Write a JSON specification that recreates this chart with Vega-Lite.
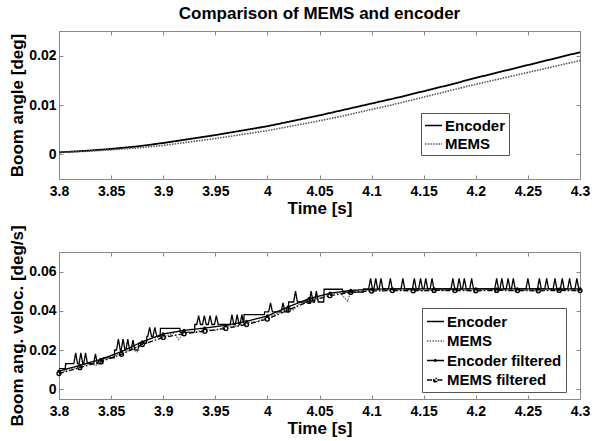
{
"$schema": "https://vega.github.io/schema/vega-lite/v6.json",
"padding": {"left": 8, "top": 4, "right": 0, "bottom": 0},
"config": {
  "font": "Liberation Sans",
  "view": {"stroke": "#888", "strokeWidth": 1},
  "axis": {"domain": false, "grid": false, "tickColor": "#888", "tickSize": -4, "labelFontSize": 14, "labelFontWeight": "bold", "labelColor": "black", "titleFontSize": 17, "titleFontWeight": "bold", "titleColor": "black", "labelFlush": false},
  "axisX": {"labelPadding": 9, "titlePadding": 2},
  "axisY": {"labelPadding": 7, "titlePadding": 2},
  "legend": {"orient": "none", "title": null, "labelFontSize": 15, "labelFontWeight": "bold", "labelColor": "black", "strokeColor": "#555", "fillColor": "white", "symbolSize": 290, "symbolStrokeWidth": 1.5, "labelOffset": 2}
},
"datasets": {
  "angle": [
    {"series":"Encoder","t":3.8,"v":0.0004},{"series":"Encoder","t":3.825,"v":0.0007},{"series":"Encoder","t":3.85,"v":0.0011},{"series":"Encoder","t":3.875,"v":0.0016},{"series":"Encoder","t":3.9,"v":0.0023},{"series":"Encoder","t":3.925,"v":0.0031},{"series":"Encoder","t":3.95,"v":0.0039},{"series":"Encoder","t":3.975,"v":0.0048},{"series":"Encoder","t":4.0,"v":0.0057},{"series":"Encoder","t":4.025,"v":0.0068},{"series":"Encoder","t":4.05,"v":0.0079},{"series":"Encoder","t":4.075,"v":0.0091},{"series":"Encoder","t":4.1,"v":0.0103},{"series":"Encoder","t":4.125,"v":0.0115},{"series":"Encoder","t":4.15,"v":0.0128},{"series":"Encoder","t":4.175,"v":0.0141},{"series":"Encoder","t":4.2,"v":0.0155},{"series":"Encoder","t":4.225,"v":0.0168},{"series":"Encoder","t":4.25,"v":0.0181},{"series":"Encoder","t":4.275,"v":0.0194},{"series":"Encoder","t":4.3,"v":0.0207},
    {"series":"MEMS","t":3.8,"v":0.0004},{"series":"MEMS","t":3.825,"v":0.0006},{"series":"MEMS","t":3.85,"v":0.0009},{"series":"MEMS","t":3.875,"v":0.0013},{"series":"MEMS","t":3.9,"v":0.0018},{"series":"MEMS","t":3.925,"v":0.0025},{"series":"MEMS","t":3.95,"v":0.0032},{"series":"MEMS","t":3.975,"v":0.004},{"series":"MEMS","t":4.0,"v":0.0048},{"series":"MEMS","t":4.025,"v":0.0058},{"series":"MEMS","t":4.05,"v":0.0068},{"series":"MEMS","t":4.075,"v":0.0079},{"series":"MEMS","t":4.1,"v":0.0091},{"series":"MEMS","t":4.125,"v":0.0103},{"series":"MEMS","t":4.15,"v":0.0116},{"series":"MEMS","t":4.175,"v":0.0129},{"series":"MEMS","t":4.2,"v":0.0142},{"series":"MEMS","t":4.225,"v":0.0154},{"series":"MEMS","t":4.25,"v":0.0166},{"series":"MEMS","t":4.275,"v":0.0178},{"series":"MEMS","t":4.3,"v":0.019}
  ],
  "vel": [
    {"series":"Encoder","t":3.8,"v":0.0105},{"series":"Encoder","t":3.806,"v":0.0105},{"series":"Encoder","t":3.8064,"v":0.013},
    {"series":"Encoder","t":3.8142,"v":0.013},{"series":"Encoder","t":3.816,"v":0.0185},{"series":"Encoder","t":3.8178,"v":0.013},
    {"series":"Encoder","t":3.8192,"v":0.013},{"series":"Encoder","t":3.821,"v":0.0185},{"series":"Encoder","t":3.8228,"v":0.013},
    {"series":"Encoder","t":3.8237,"v":0.013},{"series":"Encoder","t":3.8255,"v":0.0185},{"series":"Encoder","t":3.8273,"v":0.013},
    {"series":"Encoder","t":3.8332,"v":0.013},{"series":"Encoder","t":3.835,"v":0.018},{"series":"Encoder","t":3.8368,"v":0.013},
    {"series":"Encoder","t":3.842,"v":0.013},{"series":"Encoder","t":3.8424,"v":0.016},{"series":"Encoder","t":3.853,"v":0.016},{"series":"Encoder","t":3.8534,"v":0.02},
    {"series":"Encoder","t":3.8552,"v":0.02},{"series":"Encoder","t":3.857,"v":0.0255},{"series":"Encoder","t":3.8588,"v":0.02},
    {"series":"Encoder","t":3.8597,"v":0.02},{"series":"Encoder","t":3.8615,"v":0.0255},{"series":"Encoder","t":3.8633,"v":0.02},
    {"series":"Encoder","t":3.8642,"v":0.02},{"series":"Encoder","t":3.866,"v":0.0255},{"series":"Encoder","t":3.8678,"v":0.02},
    {"series":"Encoder","t":3.8692,"v":0.02},{"series":"Encoder","t":3.871,"v":0.025},{"series":"Encoder","t":3.8728,"v":0.02},
    {"series":"Encoder","t":3.876,"v":0.02},{"series":"Encoder","t":3.8764,"v":0.0235},{"series":"Encoder","t":3.884,"v":0.0235},{"series":"Encoder","t":3.8844,"v":0.027},
    {"series":"Encoder","t":3.8852,"v":0.027},{"series":"Encoder","t":3.887,"v":0.0315},{"series":"Encoder","t":3.8888,"v":0.027},
    {"series":"Encoder","t":3.8902,"v":0.027},{"series":"Encoder","t":3.892,"v":0.0315},{"series":"Encoder","t":3.8938,"v":0.027},
    {"series":"Encoder","t":3.897,"v":0.027},{"series":"Encoder","t":3.8974,"v":0.031},{"series":"Encoder","t":3.916,"v":0.031},{"series":"Encoder","t":3.9164,"v":0.029},
    {"series":"Encoder","t":3.93,"v":0.029},{"series":"Encoder","t":3.9304,"v":0.033},
    {"series":"Encoder","t":3.9322,"v":0.033},{"series":"Encoder","t":3.934,"v":0.0375},{"series":"Encoder","t":3.9358,"v":0.033},
    {"series":"Encoder","t":3.9377,"v":0.033},{"series":"Encoder","t":3.9395,"v":0.0375},{"series":"Encoder","t":3.9413,"v":0.033},
    {"series":"Encoder","t":3.9432,"v":0.033},{"series":"Encoder","t":3.945,"v":0.0375},{"series":"Encoder","t":3.9468,"v":0.033},
    {"series":"Encoder","t":3.9492,"v":0.033},{"series":"Encoder","t":3.951,"v":0.0375},{"series":"Encoder","t":3.9528,"v":0.033},
    {"series":"Encoder","t":3.9642,"v":0.033},{"series":"Encoder","t":3.966,"v":0.038},{"series":"Encoder","t":3.9678,"v":0.033},
    {"series":"Encoder","t":3.9692,"v":0.033},{"series":"Encoder","t":3.971,"v":0.038},{"series":"Encoder","t":3.9728,"v":0.033},
    {"series":"Encoder","t":3.9737,"v":0.033},{"series":"Encoder","t":3.9755,"v":0.038},{"series":"Encoder","t":3.9773,"v":0.033},
    {"series":"Encoder","t":3.9776,"v":0.038},{"series":"Encoder","t":3.997,"v":0.038},{"series":"Encoder","t":3.9974,"v":0.0395},
    {"series":"Encoder","t":4.0012,"v":0.0395},{"series":"Encoder","t":4.003,"v":0.044},{"series":"Encoder","t":4.0048,"v":0.0395},
    {"series":"Encoder","t":4.0132,"v":0.0395},{"series":"Encoder","t":4.015,"v":0.044},{"series":"Encoder","t":4.0168,"v":0.0395},
    {"series":"Encoder","t":4.02,"v":0.0395},{"series":"Encoder","t":4.0204,"v":0.0445},
    {"series":"Encoder","t":4.0252,"v":0.0445},{"series":"Encoder","t":4.027,"v":0.05},{"series":"Encoder","t":4.0288,"v":0.0445},
    {"series":"Encoder","t":4.0402,"v":0.0445},{"series":"Encoder","t":4.042,"v":0.05},{"series":"Encoder","t":4.0438,"v":0.0445},
    {"series":"Encoder","t":4.0452,"v":0.0445},{"series":"Encoder","t":4.047,"v":0.05},{"series":"Encoder","t":4.0488,"v":0.0445},
    {"series":"Encoder","t":4.054,"v":0.0445},{"series":"Encoder","t":4.0544,"v":0.051},{"series":"Encoder","t":4.072,"v":0.051},{"series":"Encoder","t":4.0724,"v":0.0495},
    {"series":"Encoder","t":4.092,"v":0.0495},{"series":"Encoder","t":4.0924,"v":0.0512},
    {"series":"Encoder","t":4.0972,"v":0.0512},{"series":"Encoder","t":4.099,"v":0.0565},{"series":"Encoder","t":4.1008,"v":0.0512},
    {"series":"Encoder","t":4.1022,"v":0.0512},{"series":"Encoder","t":4.104,"v":0.0565},{"series":"Encoder","t":4.1058,"v":0.0512},
    {"series":"Encoder","t":4.1072,"v":0.0512},{"series":"Encoder","t":4.109,"v":0.0565},{"series":"Encoder","t":4.1108,"v":0.0512},
    {"series":"Encoder","t":4.1162,"v":0.0512},{"series":"Encoder","t":4.118,"v":0.0565},{"series":"Encoder","t":4.1198,"v":0.0512},
    {"series":"Encoder","t":4.1282,"v":0.0512},{"series":"Encoder","t":4.13,"v":0.0565},{"series":"Encoder","t":4.1318,"v":0.0512},
    {"series":"Encoder","t":4.1392,"v":0.0512},{"series":"Encoder","t":4.141,"v":0.0565},{"series":"Encoder","t":4.1428,"v":0.0512},
    {"series":"Encoder","t":4.1452,"v":0.0512},{"series":"Encoder","t":4.147,"v":0.0565},{"series":"Encoder","t":4.1488,"v":0.0512},
    {"series":"Encoder","t":4.1502,"v":0.0512},{"series":"Encoder","t":4.152,"v":0.0565},{"series":"Encoder","t":4.1538,"v":0.0512},
    {"series":"Encoder","t":4.1562,"v":0.0512},{"series":"Encoder","t":4.158,"v":0.0565},{"series":"Encoder","t":4.1598,"v":0.0512},
    {"series":"Encoder","t":4.1762,"v":0.0512},{"series":"Encoder","t":4.178,"v":0.0565},{"series":"Encoder","t":4.1798,"v":0.0512},
    {"series":"Encoder","t":4.1822,"v":0.0512},{"series":"Encoder","t":4.184,"v":0.0565},{"series":"Encoder","t":4.1858,"v":0.0512},
    {"series":"Encoder","t":4.1872,"v":0.0512},{"series":"Encoder","t":4.189,"v":0.0565},{"series":"Encoder","t":4.1908,"v":0.0512},
    {"series":"Encoder","t":4.1942,"v":0.0512},{"series":"Encoder","t":4.196,"v":0.0565},{"series":"Encoder","t":4.1978,"v":0.0512},
    {"series":"Encoder","t":4.2182,"v":0.0512},{"series":"Encoder","t":4.22,"v":0.0565},{"series":"Encoder","t":4.2218,"v":0.0512},
    {"series":"Encoder","t":4.2232,"v":0.0512},{"series":"Encoder","t":4.225,"v":0.0565},{"series":"Encoder","t":4.2268,"v":0.0512},
    {"series":"Encoder","t":4.2292,"v":0.0512},{"series":"Encoder","t":4.231,"v":0.0565},{"series":"Encoder","t":4.2328,"v":0.0512},
    {"series":"Encoder","t":4.2342,"v":0.0512},{"series":"Encoder","t":4.236,"v":0.0565},{"series":"Encoder","t":4.2378,"v":0.0512},
    {"series":"Encoder","t":4.2482,"v":0.0512},{"series":"Encoder","t":4.25,"v":0.0565},{"series":"Encoder","t":4.2518,"v":0.0512},
    {"series":"Encoder","t":4.2592,"v":0.0512},{"series":"Encoder","t":4.261,"v":0.0565},{"series":"Encoder","t":4.2628,"v":0.0512},
    {"series":"Encoder","t":4.2662,"v":0.0512},{"series":"Encoder","t":4.268,"v":0.0565},{"series":"Encoder","t":4.2698,"v":0.0512},
    {"series":"Encoder","t":4.2742,"v":0.0512},{"series":"Encoder","t":4.276,"v":0.0565},{"series":"Encoder","t":4.2778,"v":0.0512},
    {"series":"Encoder","t":4.2812,"v":0.0512},{"series":"Encoder","t":4.283,"v":0.0565},{"series":"Encoder","t":4.2848,"v":0.0512},
    {"series":"Encoder","t":4.2882,"v":0.0512},{"series":"Encoder","t":4.29,"v":0.0565},{"series":"Encoder","t":4.2918,"v":0.0512},
    {"series":"Encoder","t":4.2952,"v":0.0512},{"series":"Encoder","t":4.297,"v":0.0565},{"series":"Encoder","t":4.2988,"v":0.0512},
    {"series":"Encoder","t":4.3,"v":0.0512},
    {"series":"MEMS","t":3.8,"v":0.0078},{"series":"MEMS","t":3.81,"v":0.0105},{"series":"MEMS","t":3.82,"v":0.011},{"series":"MEMS","t":3.83,"v":0.0138},{"series":"MEMS","t":3.835,"v":0.012},{"series":"MEMS","t":3.84,"v":0.014},{"series":"MEMS","t":3.85,"v":0.017},{"series":"MEMS","t":3.86,"v":0.018},{"series":"MEMS","t":3.87,"v":0.0205},{"series":"MEMS","t":3.875,"v":0.019},{"series":"MEMS","t":3.88,"v":0.024},{"series":"MEMS","t":3.89,"v":0.0262},{"series":"MEMS","t":3.9,"v":0.0268},{"series":"MEMS","t":3.91,"v":0.0285},{"series":"MEMS","t":3.915,"v":0.0254},{"series":"MEMS","t":3.92,"v":0.029},{"series":"MEMS","t":3.93,"v":0.029},{"series":"MEMS","t":3.94,"v":0.0305},{"series":"MEMS","t":3.95,"v":0.03},{"series":"MEMS","t":3.96,"v":0.032},{"series":"MEMS","t":3.97,"v":0.0322},{"series":"MEMS","t":3.98,"v":0.034},{"series":"MEMS","t":3.99,"v":0.0345},{"series":"MEMS","t":4.0,"v":0.037},{"series":"MEMS","t":4.01,"v":0.0385},{"series":"MEMS","t":4.02,"v":0.042},{"series":"MEMS","t":4.025,"v":0.0405},{"series":"MEMS","t":4.03,"v":0.0432},{"series":"MEMS","t":4.04,"v":0.046},{"series":"MEMS","t":4.05,"v":0.0465},{"series":"MEMS","t":4.06,"v":0.0488},{"series":"MEMS","t":4.07,"v":0.049},{"series":"MEMS","t":4.077,"v":0.0449},{"series":"MEMS","t":4.08,"v":0.0502},{"series":"MEMS","t":4.09,"v":0.05},{"series":"MEMS","t":4.1,"v":0.0508},{"series":"MEMS","t":4.11,"v":0.0502},{"series":"MEMS","t":4.12,"v":0.051},{"series":"MEMS","t":4.13,"v":0.0504},{"series":"MEMS","t":4.14,"v":0.0509},{"series":"MEMS","t":4.15,"v":0.0501},{"series":"MEMS","t":4.16,"v":0.0508},{"series":"MEMS","t":4.17,"v":0.0503},{"series":"MEMS","t":4.18,"v":0.051},{"series":"MEMS","t":4.19,"v":0.0505},{"series":"MEMS","t":4.2,"v":0.0502},{"series":"MEMS","t":4.21,"v":0.0509},{"series":"MEMS","t":4.22,"v":0.0504},{"series":"MEMS","t":4.23,"v":0.0507},{"series":"MEMS","t":4.24,"v":0.0501},{"series":"MEMS","t":4.25,"v":0.0506},{"series":"MEMS","t":4.26,"v":0.0502},{"series":"MEMS","t":4.27,"v":0.0509},{"series":"MEMS","t":4.28,"v":0.0504},{"series":"MEMS","t":4.29,"v":0.0507},{"series":"MEMS","t":4.3,"v":0.0503},
    {"series":"Encoder filtered","t":3.8,"v":0.0092},{"series":"Encoder filtered","t":3.82,"v":0.0122},{"series":"Encoder filtered","t":3.84,"v":0.0152},{"series":"Encoder filtered","t":3.86,"v":0.0192},{"series":"Encoder filtered","t":3.88,"v":0.0242},{"series":"Encoder filtered","t":3.9,"v":0.0282},{"series":"Encoder filtered","t":3.92,"v":0.03},{"series":"Encoder filtered","t":3.94,"v":0.0312},{"series":"Encoder filtered","t":3.96,"v":0.0326},{"series":"Encoder filtered","t":3.98,"v":0.0346},{"series":"Encoder filtered","t":4.0,"v":0.0374},{"series":"Encoder filtered","t":4.02,"v":0.042},{"series":"Encoder filtered","t":4.04,"v":0.0462},{"series":"Encoder filtered","t":4.06,"v":0.049},{"series":"Encoder filtered","t":4.08,"v":0.0504},{"series":"Encoder filtered","t":4.1,"v":0.051},{"series":"Encoder filtered","t":4.12,"v":0.0512},{"series":"Encoder filtered","t":4.14,"v":0.0511},{"series":"Encoder filtered","t":4.16,"v":0.0512},{"series":"Encoder filtered","t":4.18,"v":0.0511},{"series":"Encoder filtered","t":4.2,"v":0.0512},{"series":"Encoder filtered","t":4.22,"v":0.0511},{"series":"Encoder filtered","t":4.24,"v":0.0512},{"series":"Encoder filtered","t":4.26,"v":0.0512},{"series":"Encoder filtered","t":4.28,"v":0.0511},{"series":"Encoder filtered","t":4.3,"v":0.0512},
    {"series":"MEMS filtered","t":3.8,"v":0.008},{"series":"MEMS filtered","t":3.82,"v":0.011},{"series":"MEMS filtered","t":3.84,"v":0.014},{"series":"MEMS filtered","t":3.86,"v":0.0178},{"series":"MEMS filtered","t":3.88,"v":0.0228},{"series":"MEMS filtered","t":3.9,"v":0.0264},{"series":"MEMS filtered","t":3.92,"v":0.0283},{"series":"MEMS filtered","t":3.94,"v":0.0296},{"series":"MEMS filtered","t":3.96,"v":0.031},{"series":"MEMS filtered","t":3.98,"v":0.033},{"series":"MEMS filtered","t":4.0,"v":0.0358},{"series":"MEMS filtered","t":4.02,"v":0.0404},{"series":"MEMS filtered","t":4.04,"v":0.0448},{"series":"MEMS filtered","t":4.06,"v":0.0477},{"series":"MEMS filtered","t":4.08,"v":0.0494},{"series":"MEMS filtered","t":4.1,"v":0.0501},{"series":"MEMS filtered","t":4.12,"v":0.0503},{"series":"MEMS filtered","t":4.14,"v":0.0502},{"series":"MEMS filtered","t":4.16,"v":0.0504},{"series":"MEMS filtered","t":4.18,"v":0.0503},{"series":"MEMS filtered","t":4.2,"v":0.0502},{"series":"MEMS filtered","t":4.22,"v":0.0504},{"series":"MEMS filtered","t":4.24,"v":0.0503},{"series":"MEMS filtered","t":4.26,"v":0.0502},{"series":"MEMS filtered","t":4.28,"v":0.0504},{"series":"MEMS filtered","t":4.3,"v":0.0503}
  ]
},
"bounds": "flush",
"spacing": 73,
"resolve": {"scale": {"color": "independent", "strokeDash": "independent"}, "legend": {"color": "independent", "strokeDash": "independent"}},
"vconcat": [
  {
    "width": 521, "height": 148,
    "title": {"text": "Comparison of MEMS and encoder", "fontSize": 17, "fontWeight": "bold", "color": "black", "frame": "group", "anchor": "middle", "offset": 8},
    "data": {"name": "angle"},
    "resolve": {"axis": {"x": "independent", "y": "independent"}},
    "layer": [
      {
        "transform": [{"filter": "datum.series == 'Encoder'"}],
        "mark": {"type": "line", "strokeWidth": 1.8},
        "encoding": {
          "x": {"field": "t", "type": "quantitative", "scale": {"domain": [3.8, 4.3], "nice": false, "zero": false}, "axis": {"values": [3.8,3.85,3.9,3.95,4,4.05,4.1,4.15,4.2,4.25,4.3], "format": "~g", "title": "Time [s]"}},
          "y": {"field": "v", "type": "quantitative", "scale": {"domain": [-0.005, 0.025], "nice": false, "zero": false}, "axis": {"values": [0, 0.01, 0.02], "format": "~g", "title": "Boom angle [deg]"}},
          "color": {"field": "series", "type": "nominal", "scale": {"domain": ["Encoder", "MEMS"], "range": ["#000000", "#555555"]}, "legend": {"legendX": 362, "legendY": 82, "padding": 3, "rowPadding": 0.5, "symbolType": "stroke"}},
          "strokeDash": {"field": "series", "type": "nominal", "scale": {"domain": ["Encoder", "MEMS"], "range": [[1, 0], [1.5, 1.2]]}, "legend": {"legendX": 362, "legendY": 82, "padding": 3, "rowPadding": 0.5, "symbolType": "stroke"}}
        }
      },
      {
        "transform": [{"filter": "datum.series == 'MEMS'"}],
        "mark": {"type": "line", "strokeWidth": 1.6},
        "encoding": {
          "x": {"field": "t", "type": "quantitative", "axis": {"orient": "top", "values": [3.8,3.85,3.9,3.95,4,4.05,4.1,4.15,4.2,4.25,4.3], "labels": false, "title": null}},
          "y": {"field": "v", "type": "quantitative", "axis": {"orient": "right", "values": [0, 0.01, 0.02], "labels": false, "title": null}},
          "color": {"field": "series", "type": "nominal"},
          "strokeDash": {"field": "series", "type": "nominal"}
        }
      }
    ]
  },
  {
    "width": 521, "height": 147,
    "data": {"name": "vel"},
    "resolve": {"axis": {"x": "independent", "y": "independent"}},
    "layer": [
      {
        "mark": {"type": "line", "strokeWidth": 1.3},
        "encoding": {
          "x": {"field": "t", "type": "quantitative", "scale": {"domain": [3.8, 4.3], "nice": false, "zero": false}, "axis": {"values": [3.8,3.85,3.9,3.95,4,4.05,4.1,4.15,4.2,4.25,4.3], "format": "~g", "title": "Time [s]"}},
          "y": {"field": "v", "type": "quantitative", "scale": {"domain": [-0.005, 0.07], "nice": false, "zero": false}, "axis": {"values": [0, 0.02, 0.04, 0.06], "format": "~g", "title": "Boom ang. veloc. [deg/s]"}},
          "color": {"field": "series", "type": "nominal", "scale": {"domain": ["Encoder", "MEMS", "Encoder filtered", "MEMS filtered"], "range": ["#000000", "#666666", "#000000", "#000000"]}, "legend": {"legendX": 363, "legendY": 56, "padding": 4, "rowPadding": 1.5, "symbolType": {"expr": "datum.value == 'MEMS filtered' ? 'M-1,0H1M-0.22,0A0.22,0.22,0,1,0,0.22,0A0.22,0.22,0,1,0,-0.22,0' : (datum.value == 'Encoder filtered' ? 'M-1,0H1M-0.1,0A0.1,0.1,0,1,0,0.1,0A0.1,0.1,0,1,0,-0.1,0' : 'stroke')"}}},
          "strokeDash": {"field": "series", "type": "nominal", "scale": {"domain": ["Encoder", "MEMS", "Encoder filtered", "MEMS filtered"], "range": [[1, 0], [1.5, 1.2], [1, 0], [5, 2, 1.5, 2]]}, "legend": {"legendX": 363, "legendY": 56, "padding": 4, "rowPadding": 1.5, "symbolType": {"expr": "datum.value == 'MEMS filtered' ? 'M-1,0H1M-0.22,0A0.22,0.22,0,1,0,0.22,0A0.22,0.22,0,1,0,-0.22,0' : (datum.value == 'Encoder filtered' ? 'M-1,0H1M-0.1,0A0.1,0.1,0,1,0,0.1,0A0.1,0.1,0,1,0,-0.1,0' : 'stroke')"}}}
        }
      },
      {
        "transform": [{"filter": "datum.series == 'Encoder filtered'"}],
        "mark": {"type": "point", "filled": true, "size": 10, "color": "black", "opacity": 1},
        "encoding": {
          "x": {"field": "t", "type": "quantitative", "axis": {"orient": "top", "values": [3.8,3.85,3.9,3.95,4,4.05,4.1,4.15,4.2,4.25,4.3], "labels": false, "title": null}},
          "y": {"field": "v", "type": "quantitative", "axis": {"orient": "right", "values": [0, 0.02, 0.04, 0.06], "labels": false, "title": null}}
        }
      },
      {
        "transform": [{"filter": "datum.series == 'MEMS filtered'"}],
        "mark": {"type": "point", "size": 16, "color": "black", "strokeWidth": 1.3, "opacity": 1},
        "encoding": {
          "x": {"field": "t", "type": "quantitative", "axis": null},
          "y": {"field": "v", "type": "quantitative", "axis": null}
        }
      }
    ]
  }
]
}
